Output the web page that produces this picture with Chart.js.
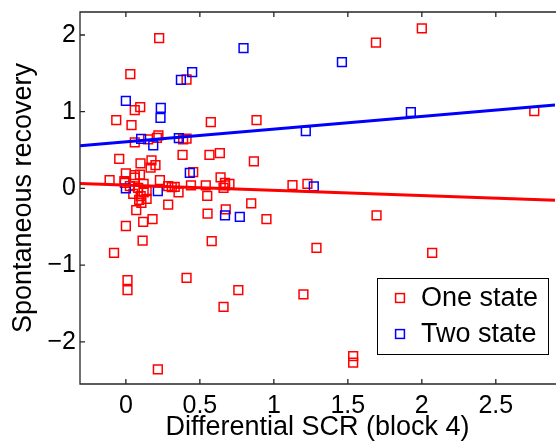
<!DOCTYPE html>
<html>
<head>
<meta charset="utf-8">
<script src="https://cdn.jsdelivr.net/npm/chart.js@4.4.1/dist/chart.umd.min.js"></script>
<style>
html,body{margin:0;padding:0;background:#fff;}
#wrap{width:556px;height:447px;}
</style>
</head>
<body>
<div id="wrap"><canvas id="c" width="556" height="447"></canvas></div>
<script>
// ---- data ----
const oneStateX = [0.225,0.03,0.06,0.097,-0.065,0.038,0.41,0.574,0.883,0.06,0.15,0.21,0.22,0.387,0.41,-0.045,0.383,0.565,0.635,0.865,0.099,0.173,0.2,0.167,0.455,-0.11,0.0,-0.01,0.06,0.095,0.06,0.23,-0.007,0.027,0.083,0.14,0.286,0.31,0.33,0.44,0.54,0.64,0.67,0.70,0.66,0.356,0.55,0.847,0.286,0.07,0.105,0.14,0.05,0.10,0.12,0.552,0.675,0.95,0.0,0.117,0.18,0.113,-0.08,0.011,0.011,0.41,0.58,0.76,0.66,0.216,2.0,1.69,2.76,1.126,1.227,1.694,1.288,2.07,1.2,1.536,1.536,0.67,0.12,0.09];
const oneStateY = [1.96,1.49,1.02,1.06,0.89,0.825,1.42,0.864,0.89,0.60,0.64,0.66,0.69,0.64,0.65,0.386,0.438,0.438,0.46,0.352,0.326,0.365,0.304,0.27,0.212,0.108,0.196,0.095,0.173,0.18,0.14,0.108,0.073,0.03,0.008,-0.035,0.03,0.017,0.02,0.04,0.04,0.143,0.073,0.06,0.008,-0.052,-0.096,-0.196,-0.21,-0.283,-0.19,-0.135,-0.07,-0.1,-0.05,-0.33,-0.274,-0.40,-0.49,-0.435,-0.40,-0.68,-0.84,-1.196,-1.326,-1.165,-0.687,-1.326,-1.544,-2.36,2.086,1.90,1.008,0.043,0.06,-0.352,-0.774,-0.84,-1.38,-2.186,-2.27,0.04,0.06,-0.15];
const twoStateX = [0.0,0.236,0.234,0.372,0.448,0.795,0.103,0.185,0.358,0.432,0.0,0.216,0.67,0.77,1.46,1.926,1.216,1.27];
const twoStateY = [1.14,1.05,0.92,1.416,1.516,1.83,0.647,0.56,0.656,0.203,0.0,-0.035,-0.352,-0.37,1.647,0.995,0.747,0.026];
const fitX = [-0.31, 2.9];
const oneStateFit = [0.065, -0.153];
const twoStateFit = [0.555, 1.086];
const xTickVals = [0, 0.5, 1, 1.5, 2, 2.5];
const yTickVals = [-2, -1, 0, 1, 2];
const seriesNames = ['One state', 'Two state'];
const xTitle = 'Differential SCR (block 4)';
const yTitle = 'Spontaneous recovery';

// ---- styles ----
const RED = '#ff0000', BLUE = '#0000ff', AX = '#262626';
const FONT = '"Liberation Sans", Arial, Helvetica, sans-serif';
const pts = (xs, ys) => xs.map((x, i) => ({x: x, y: ys[i]}));
const fmt = v => (v < 0 ? '\u2212' + Math.abs(v) : String(v));

const frame = {
  id: 'frame',
  afterDatasetsDraw(chart) {
    const {ctx, chartArea: a, scales: {x, y}} = chart;
    ctx.save();
    ctx.strokeStyle = AX;
    ctx.lineWidth = 1.3;
    ctx.beginPath();
    ctx.moveTo(a.right + 2, a.top); ctx.lineTo(a.left, a.top);
    ctx.lineTo(a.left, a.bottom); ctx.lineTo(a.right + 2, a.bottom);
    ctx.stroke();
    const tl = 5;
    ctx.beginPath();
    x.ticks.forEach(t => {
      const p = x.getPixelForValue(t.value);
      ctx.moveTo(p, a.bottom); ctx.lineTo(p, a.bottom - tl);
      ctx.moveTo(p, a.top); ctx.lineTo(p, a.top + tl);
    });
    y.ticks.forEach(t => {
      const p = y.getPixelForValue(t.value);
      ctx.moveTo(a.left, p); ctx.lineTo(a.left + tl, p);
    });
    ctx.stroke();

    // legend
    const bx = 377, by = 278, bw = 171, bh = 76;
    ctx.fillStyle = '#fff';
    ctx.fillRect(bx, by, bw, bh);
    ctx.strokeStyle = '#000';
    ctx.lineWidth = 1;
    ctx.strokeRect(bx + 0.5, by + 0.5, bw, bh);
    const cols = [RED, BLUE];
    const rows = [298, 334];
    ctx.font = '27px ' + FONT;
    ctx.textBaseline = 'middle';
    ctx.textAlign = 'left';
    seriesNames.forEach((n, i) => {
      ctx.strokeStyle = cols[i];
      ctx.lineWidth = 1.5;
      ctx.strokeRect(400 - 4.4, rows[i] - 4.4, 8.8, 8.8);
      ctx.fillStyle = '#000';
      ctx.fillText(n, 421, rows[i] + 1);
    });
    ctx.restore();
  }
};

new Chart(document.getElementById('c'), {
  type: 'scatter',
  data: {
    datasets: [
      {label: 'fit1', data: pts(fitX, oneStateFit), showLine: true, borderColor: RED, borderWidth: 3, pointRadius: 0, fill: false},
      {label: 'fit2', data: pts(fitX, twoStateFit), showLine: true, borderColor: BLUE, borderWidth: 3, pointRadius: 0, fill: false},
      {label: seriesNames[1], data: pts(twoStateX, twoStateY), pointStyle: 'rect', pointRadius: 6.2, borderColor: BLUE, backgroundColor: 'rgba(0,0,0,0)', borderWidth: 1.5},
      {label: seriesNames[0], data: pts(oneStateX, oneStateY), pointStyle: 'rect', pointRadius: 6.2, borderColor: RED, backgroundColor: 'rgba(0,0,0,0)', borderWidth: 1.5}
    ]
  },
  options: {
    responsive: false,
    animation: false,
    devicePixelRatio: 1,
    layout: {autoPadding: false, padding: {top: 12, right: 1, left: 0, bottom: 0}},
    plugins: {legend: {display: false}, tooltip: {enabled: false}},
    scales: {
      x: {
        type: 'linear', min: -0.31, max: 2.9,
        afterBuildTicks: s => { s.ticks = xTickVals.map(v => ({value: v})); },
        afterFit: s => { s.height = 63; s.paddingLeft = 0; s.paddingRight = 0; },
        grid: {display: false, drawTicks: false},
        border: {display: false},
        ticks: {color: '#000', font: {family: FONT, size: 25}, padding: 7, maxRotation: 0, autoSkip: false, callback: v => fmt(v)},
        title: {display: true, text: xTitle, color: '#000', font: {family: FONT, size: 27}, padding: {top: 0, bottom: 3}}
      },
      y: {
        type: 'linear', min: -2.55, max: 2.3,
        afterBuildTicks: s => { s.ticks = yTickVals.map(v => ({value: v})); },
        afterFit: s => { s.width = 80; s.paddingTop = 0; s.paddingBottom = 0; },
        grid: {display: false, drawTicks: false},
        border: {display: false},
        ticks: {color: '#000', font: {family: FONT, size: 25}, padding: 4, autoSkip: false, callback: v => fmt(v)},
        title: {display: true, text: yTitle, color: '#000', font: {family: FONT, size: 27}, padding: {top: 7, bottom: 0}}
      }
    }
  },
  plugins: [frame]
});
</script>
</body>
</html>
